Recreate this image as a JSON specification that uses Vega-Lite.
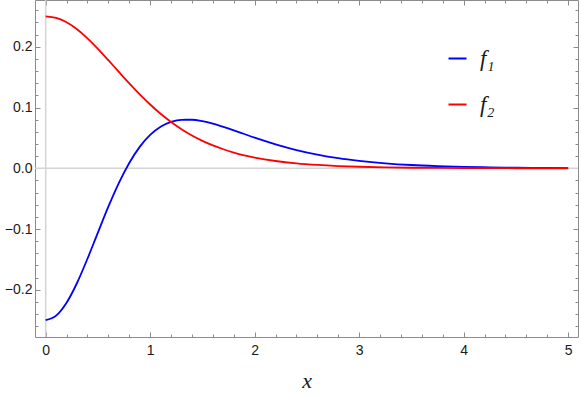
{
  "$schema": "https://vega.github.io/schema/vega-lite/v6.json",
  "width": 543,
  "height": 337,
  "autosize": {"type": "none"},
  "padding": {"left": 35, "top": 0, "right": 3, "bottom": 60},
  "background": "white",
  "config": {
    "view": {"stroke": "#8c8c8c", "strokeWidth": 1},
    "axis": {"domain": false, "grid": false, "tickColor": "#8c8c8c", "tickWidth": 1,
      "labelFont": "Liberation Sans", "labelFontSize": 14, "labelColor": "#1a1a1a"}
  },
  "datasets": {
    "curves": [
      {"x": 0, "y": -0.25, "s": "f₁"}, {"x": 0.1, "y": -0.2426, "s": "f₁"}, {"x": 0.2, "y": -0.2213, "s": "f₁"},
      {"x": 0.3, "y": -0.1888, "s": "f₁"}, {"x": 0.4, "y": -0.1489, "s": "f₁"}, {"x": 0.5, "y": -0.1058, "s": "f₁"},
      {"x": 0.6, "y": -0.0632, "s": "f₁"}, {"x": 0.7, "y": -0.0244, "s": "f₁"}, {"x": 0.8, "y": 0.0087, "s": "f₁"},
      {"x": 0.9, "y": 0.0352, "s": "f₁"}, {"x": 1.0, "y": 0.0549, "s": "f₁"}, {"x": 1.1, "y": 0.0683, "s": "f₁"},
      {"x": 1.2, "y": 0.0763, "s": "f₁"}, {"x": 1.3, "y": 0.0798, "s": "f₁"}, {"x": 1.4, "y": 0.0799, "s": "f₁"},
      {"x": 1.5, "y": 0.0775, "s": "f₁"}, {"x": 1.6, "y": 0.0734, "s": "f₁"}, {"x": 1.7, "y": 0.0681, "s": "f₁"},
      {"x": 1.8, "y": 0.0624, "s": "f₁"}, {"x": 1.9, "y": 0.0564, "s": "f₁"}, {"x": 2.0, "y": 0.0504, "s": "f₁"},
      {"x": 2.2, "y": 0.0395, "s": "f₁"}, {"x": 2.4, "y": 0.0301, "s": "f₁"}, {"x": 2.6, "y": 0.0226, "s": "f₁"},
      {"x": 2.8, "y": 0.0167, "s": "f₁"}, {"x": 3.0, "y": 0.0123, "s": "f₁"}, {"x": 3.25, "y": 0.0082, "s": "f₁"},
      {"x": 3.5, "y": 0.0054, "s": "f₁"}, {"x": 3.75, "y": 0.0036, "s": "f₁"}, {"x": 4.0, "y": 0.0023, "s": "f₁"},
      {"x": 4.25, "y": 0.0015, "s": "f₁"}, {"x": 4.5, "y": 0.001, "s": "f₁"}, {"x": 4.75, "y": 0.0006, "s": "f₁"},
      {"x": 5.0, "y": 0.0004, "s": "f₁"},
      {"x": 0, "y": 0.25, "s": "f₂"}, {"x": 0.1, "y": 0.2475, "s": "f₂"}, {"x": 0.2, "y": 0.2403, "s": "f₂"},
      {"x": 0.3, "y": 0.2288, "s": "f₂"}, {"x": 0.4, "y": 0.2139, "s": "f₂"}, {"x": 0.5, "y": 0.1966, "s": "f₂"},
      {"x": 0.6, "y": 0.1779, "s": "f₂"}, {"x": 0.7, "y": 0.1587, "s": "f₂"}, {"x": 0.8, "y": 0.1398, "s": "f₂"},
      {"x": 0.9, "y": 0.1217, "s": "f₂"}, {"x": 1.0, "y": 0.105, "s": "f₂"}, {"x": 1.1, "y": 0.0898, "s": "f₂"},
      {"x": 1.2, "y": 0.0763, "s": "f₂"}, {"x": 1.3, "y": 0.0644, "s": "f₂"}, {"x": 1.4, "y": 0.054, "s": "f₂"},
      {"x": 1.5, "y": 0.0452, "s": "f₂"}, {"x": 1.6, "y": 0.0376, "s": "f₂"}, {"x": 1.7, "y": 0.0313, "s": "f₂"},
      {"x": 1.8, "y": 0.0259, "s": "f₂"}, {"x": 1.9, "y": 0.0214, "s": "f₂"}, {"x": 2.0, "y": 0.0177, "s": "f₂"},
      {"x": 2.2, "y": 0.012, "s": "f₂"}, {"x": 2.4, "y": 0.0081, "s": "f₂"}, {"x": 2.6, "y": 0.0055, "s": "f₂"},
      {"x": 2.8, "y": 0.0037, "s": "f₂"}, {"x": 3.0, "y": 0.0025, "s": "f₂"}, {"x": 3.25, "y": 0.0015, "s": "f₂"},
      {"x": 3.5, "y": 0.0009, "s": "f₂"}, {"x": 3.75, "y": 0.0006, "s": "f₂"}, {"x": 4.0, "y": 0.0003, "s": "f₂"},
      {"x": 4.25, "y": 0.0002, "s": "f₂"}, {"x": 4.5, "y": 0.0001, "s": "f₂"}, {"x": 4.75, "y": 0.0001, "s": "f₂"},
      {"x": 5.0, "y": 0.0, "s": "f₂"}
    ],
    "axisLines": [{"v": 0}]
  },
  "layer": [
    {
      "data": {"name": "axisLines"},
      "mark": {"type": "rule", "color": "#d4d4d4", "strokeWidth": 1.5},
      "encoding": {
        "x": {"field": "v", "type": "quantitative",
          "scale": {"domain": [-0.102, 5.094], "nice": false, "zero": false},
          "axis": {"orient": "top", "title": null, "labels": false,
            "values": [0,0.2,0.4,0.6,0.8,1,1.2,1.4,1.6,1.8,2,2.2,2.4,2.6,2.8,3,3.2,3.4,3.6,3.8,4,4.2,4.4,4.6,4.8,5],
            "tickSize": {"condition": {"test": "abs(datum.value - round(datum.value)) < 0.001", "value": -5}, "value": -3}}}
      }
    },
    {
      "data": {"name": "axisLines"},
      "mark": {"type": "rule", "color": "#d4d4d4", "strokeWidth": 1.5},
      "encoding": {
        "y": {"field": "v", "type": "quantitative",
          "scale": {"domain": [-0.2777, 0.277], "nice": false, "zero": false},
          "axis": {"orient": "right", "title": null, "labels": false,
            "values": [-0.26,-0.24,-0.22,-0.2,-0.18,-0.16,-0.14,-0.12,-0.1,-0.08,-0.06,-0.04,-0.02,0,0.02,0.04,0.06,0.08,0.1,0.12,0.14,0.16,0.18,0.2,0.22,0.24,0.26],
            "tickSize": {"condition": {"test": "abs(datum.value*10 - round(datum.value*10)) < 0.001", "value": -5}, "value": -3}}}
      }
    },
    {
      "data": {"name": "curves"},
      "mark": {"type": "line", "strokeWidth": 1.8, "interpolate": "monotone"},
      "encoding": {
        "x": {"field": "x", "type": "quantitative",
          "scale": {"domain": [-0.102, 5.094], "nice": false, "zero": false},
          "axis": {"orient": "bottom", "title": "x", "titleFont": "Liberation Serif", "titleFontStyle": "italic",
            "titleFontWeight": "normal", "titleFontSize": 22, "titleColor": "#1a1a1a", "titlePadding": 13,
            "labelPadding": 11,
            "values": [0,0.2,0.4,0.6,0.8,1,1.2,1.4,1.6,1.8,2,2.2,2.4,2.6,2.8,3,3.2,3.4,3.6,3.8,4,4.2,4.4,4.6,4.8,5],
            "labelExpr": "abs(datum.value - round(datum.value)) < 0.001 ? format(datum.value, 'd') : ''",
            "tickSize": {"condition": {"test": "abs(datum.value - round(datum.value)) < 0.001", "value": -5}, "value": -3}}},
        "y": {"field": "y", "type": "quantitative",
          "scale": {"domain": [-0.2777, 0.277], "nice": false, "zero": false},
          "axis": {"orient": "left", "title": null, "labelPadding": 8,
            "values": [-0.26,-0.24,-0.22,-0.2,-0.18,-0.16,-0.14,-0.12,-0.1,-0.08,-0.06,-0.04,-0.02,0,0.02,0.04,0.06,0.08,0.1,0.12,0.14,0.16,0.18,0.2,0.22,0.24,0.26],
            "labelExpr": "abs(datum.value*10 - round(datum.value*10)) < 0.001 ? format(datum.value, '.1f') : ''",
            "tickSize": {"condition": {"test": "abs(datum.value*10 - round(datum.value*10)) < 0.001", "value": -5}, "value": -3}}},
        "color": {"field": "s", "type": "nominal",
          "scale": {"domain": ["f₁", "f₂"], "range": ["#0000ff", "#ff0000"]},
          "legend": {"orient": "none", "legendX": 411, "legendY": 47, "title": null,
            "symbolType": "stroke", "symbolSize": 324, "symbolStrokeWidth": 2,
            "labelFont": "Liberation Serif", "labelFontStyle": "italic", "labelFontSize": 23,
            "labelColor": "#1a1a1a", "labelOffset": 11, "rowPadding": 22, "padding": 0}}
      }
    }
  ],
  "resolve": {"axis": {"x": "independent", "y": "independent"}}
}
